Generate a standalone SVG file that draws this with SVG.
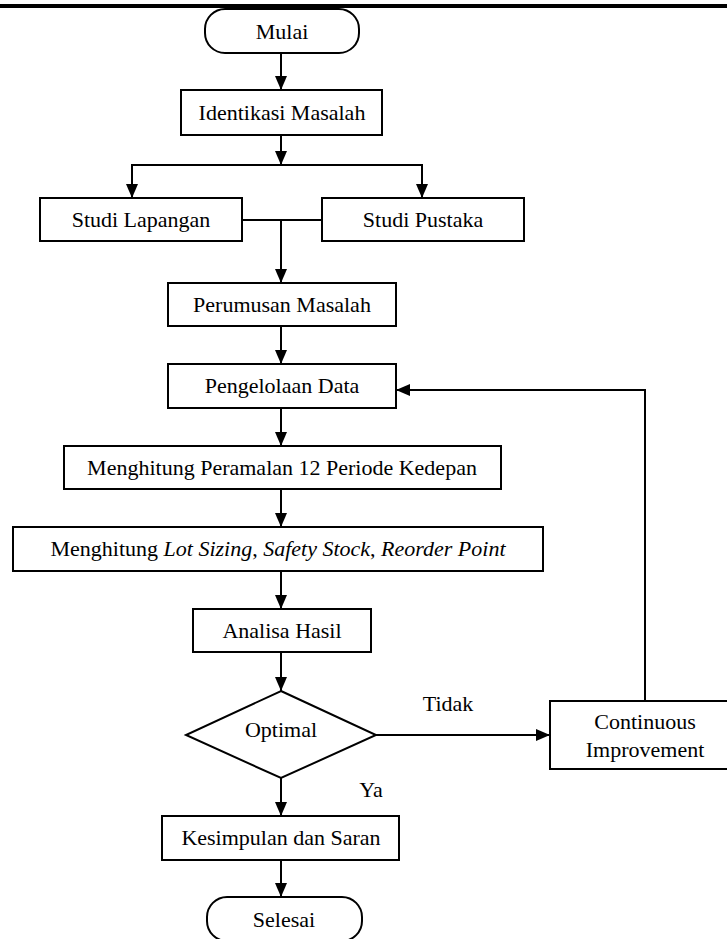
<svg xmlns="http://www.w3.org/2000/svg" width="727" height="939" viewBox="0 0 727 939">
<defs>
<marker id="ah" markerUnits="userSpaceOnUse" markerWidth="14" markerHeight="12" refX="14" refY="6" orient="auto">
<path d="M0,0 L14,6 L0,12 z" fill="#000"/>
</marker>
<style>
.box{fill:#fff;stroke:#000;stroke-width:2}
.t{font-size:22px;fill:#000;text-anchor:middle}
.c{fill:none;stroke:#000;stroke-width:2}
</style>
</defs>
<rect x="0" y="0" width="727" height="939" fill="#fff"/>
<rect x="0" y="4" width="727" height="4" fill="#000"/>
<g font-family="'Liberation Serif', 'Times New Roman', 'DejaVu Serif', serif">
<g id="mulai"><rect class="box" x="205" y="9" width="154" height="44" rx="20"/><text class="t" x="282" y="39">Mulai</text></g>
<g id="identifikasi"><rect class="box" x="181" y="90" width="201" height="45"/><text class="t" x="282" y="120">Identikasi Masalah</text></g>
<g id="lapangan"><rect class="box" x="40" y="198" width="202" height="43"/><text class="t" x="141" y="227">Studi Lapangan</text></g>
<g id="pustaka"><rect class="box" x="322" y="198" width="202" height="43"/><text class="t" x="423" y="227">Studi Pustaka</text></g>
<g id="perumusan"><rect class="box" x="168" y="283" width="228" height="43"/><text class="t" x="282" y="312">Perumusan Masalah</text></g>
<g id="pengelolaan"><rect class="box" x="168" y="364" width="228" height="44"/><text class="t" x="282" y="393">Pengelolaan Data</text></g>
<g id="peramalan"><rect class="box" x="64" y="446" width="437" height="43"/><text class="t" x="282" y="475">Menghitung Peramalan 12 Periode Kedepan</text></g>
<g id="lotsizing"><rect class="box" x="13" y="527" width="530" height="44"/><text class="t" x="278" y="556">Menghitung <tspan font-style="italic">Lot Sizing</tspan>, <tspan font-style="italic">Safety Stock</tspan>, <tspan font-style="italic">Reorder Point</tspan></text></g>
<g id="analisa"><rect class="box" x="193" y="609" width="178" height="43"/><text class="t" x="282" y="638">Analisa Hasil</text></g>
<g id="optimal"><polygon class="box" points="281,691 376,735 281,778 186,735"/><text class="t" x="281" y="737">Optimal</text></g>
<g id="continuous"><rect class="box" x="550" y="701" width="180" height="68"/><text class="t" x="645" y="729">Continuous</text><text class="t" x="645" y="757">Improvement</text></g>
<g id="kesimpulan"><rect class="box" x="162" y="816" width="237" height="44"/><text class="t" x="281" y="845">Kesimpulan dan Saran</text></g>
<g id="selesai"><rect class="box" x="207" y="897" width="155" height="44" rx="20"/><text class="t" x="284" y="927">Selesai</text></g>
<g id="connectors">
<path class="c" d="M281,53 V90" marker-end="url(#ah)"/>
<path class="c" d="M281,135 V165" marker-end="url(#ah)"/>
<path class="c" d="M131,165 H423"/>
<path class="c" d="M132,165 V198" marker-end="url(#ah)"/>
<path class="c" d="M422,165 V198" marker-end="url(#ah)"/>
<path class="c" d="M242,220 H322"/>
<path class="c" d="M281,220 V283" marker-end="url(#ah)"/>
<path class="c" d="M281,326 V364" marker-end="url(#ah)"/>
<path class="c" d="M281,408 V446" marker-end="url(#ah)"/>
<path class="c" d="M281,489 V527" marker-end="url(#ah)"/>
<path class="c" d="M281,571 V609" marker-end="url(#ah)"/>
<path class="c" d="M281,652 V691" marker-end="url(#ah)"/>
<path class="c" d="M376,735 H550" marker-end="url(#ah)"/>
<path class="c" d="M645,701 V390 H396" marker-end="url(#ah)"/>
<path class="c" d="M281,778 V816" marker-end="url(#ah)"/>
<path class="c" d="M281,860 V897" marker-end="url(#ah)"/>
<text class="t" x="448" y="711">Tidak</text>
<text class="t" x="371" y="797">Ya</text>
</g>
</g>
</svg>
